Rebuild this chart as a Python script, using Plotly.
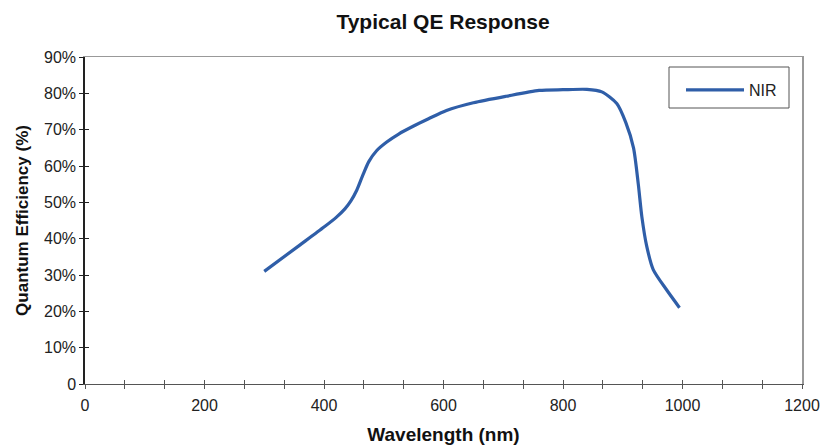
import plotly.graph_objects as go

wavelength_nm = [300, 360, 400, 420, 435, 445, 455, 465, 475, 488, 505, 525, 550, 575,
                 605, 650, 705, 760, 800, 840, 865, 890, 905, 918, 926, 932, 940, 951, 973, 995]
qe_percent = [31, 38.3, 43.2, 45.8, 48.2, 50.4, 53.4, 57.5, 61.2, 64.2, 66.6, 68.8, 71, 73,
              75.3, 77.4, 79.2, 80.8, 81, 81.1, 80.4, 77.2, 72, 65, 55, 46, 38, 31.5, 26, 21]
series_name = "NIR"

x_tick_vals = [i * 1200 / 18 for i in range(19)]
x_tick_text = [str(int(round(v))) if abs(v / 200 - round(v / 200)) < 1e-6 else "" for v in x_tick_vals]
y_tick_vals = list(range(0, 91, 10))
y_tick_text = ["0"] + [f"{v}%" for v in y_tick_vals[1:]]

FONT = "Liberation Sans, Arial, sans-serif"
LINE_COLOR = "#2f5ea8"

L, R, T, B = 85, 22, 57, 61
PW, PH = 824 - L - R, 445 - T - B


def px_x(p):
    return (p - L) / PW


def px_y(p):
    return (445 - B - p) / PH


fig = go.Figure()
fig.add_trace(go.Scatter(
    x=wavelength_nm, y=qe_percent, mode="lines", name=series_name,
    line=dict(color=LINE_COLOR, width=3.2, shape="spline", smoothing=0.7),
))

fig.update_layout(
    width=824, height=445,
    margin=dict(l=L, r=R, t=T, b=B),
    paper_bgcolor="white", plot_bgcolor="white",
    font=dict(family=FONT, color="#222", size=16),
    title=dict(text="<b>Typical QE Response</b>", x=(L + 358) / 824, xanchor="center",
               y=1 - 22 / 445, yanchor="middle", font=dict(size=21, color="#111")),
    showlegend=True,
    legend=dict(x=px_x(681), y=px_y(73), xanchor="left", yanchor="top",
                borderwidth=0, bgcolor="rgba(0,0,0,0)", itemwidth=58,
                font=dict(size=16, color="#222")),
    shapes=[dict(type="rect", xref="paper", yref="paper", x0=px_x(669), x1=px_x(789),
                 y0=px_y(108), y1=px_y(67), line=dict(color="#555", width=1),
                 fillcolor="white", layer="below")],
    xaxis=dict(range=[0, 1200], tickmode="array", tickvals=x_tick_vals, ticktext=x_tick_text,
               ticks="outside", ticklen=4, tickcolor="#555", showline=True, linecolor="#555",
               linewidth=1.2, showgrid=False, zeroline=False, automargin=False,
               ticklabelstandoff=3,
               title=dict(text="<b>Wavelength (nm)</b>", font=dict(size=19, color="#111"), standoff=15)),
    yaxis=dict(range=[0, 90], tickmode="array", tickvals=y_tick_vals, ticktext=y_tick_text,
               ticks="outside", ticklen=4, tickcolor="#222", showline=True, linecolor="#222",
               linewidth=1.5, showgrid=False, zeroline=False, automargin=False,
               title=dict(text="<b>Quantum Efficiency (%)</b>", font=dict(size=17, color="#111"), standoff=11)),
    xaxis2=dict(range=[0, 1200], overlaying="x", side="bottom", anchor="y", tickmode="array",
                tickvals=x_tick_vals, ticks="inside", ticklen=4, tickcolor="#555",
                showticklabels=False, showgrid=False, zeroline=False, showline=False),
    yaxis2=dict(range=[0, 90], overlaying="y", side="left", anchor="x", tickmode="array",
                tickvals=y_tick_vals, ticks="inside", ticklen=4, tickcolor="#222",
                showticklabels=False, showgrid=False, zeroline=False, showline=False),
    xaxis3=dict(range=[0, 1200], overlaying="x", side="top", anchor="y", showline=True,
                linecolor="#999", linewidth=1.2, ticks="", showticklabels=False,
                showgrid=False, zeroline=False),
    yaxis3=dict(range=[0, 90], overlaying="y", side="right", anchor="x", showline=True,
                linecolor="#999", linewidth=2, ticks="", showticklabels=False,
                showgrid=False, zeroline=False),
)
for xa, ya in [("x2", "y2"), ("x3", "y3")]:
    fig.add_trace(go.Scatter(x=[None], y=[None], xaxis=xa, yaxis=ya, showlegend=False,
                             hoverinfo="skip"))

fig.write_html("out.html")
